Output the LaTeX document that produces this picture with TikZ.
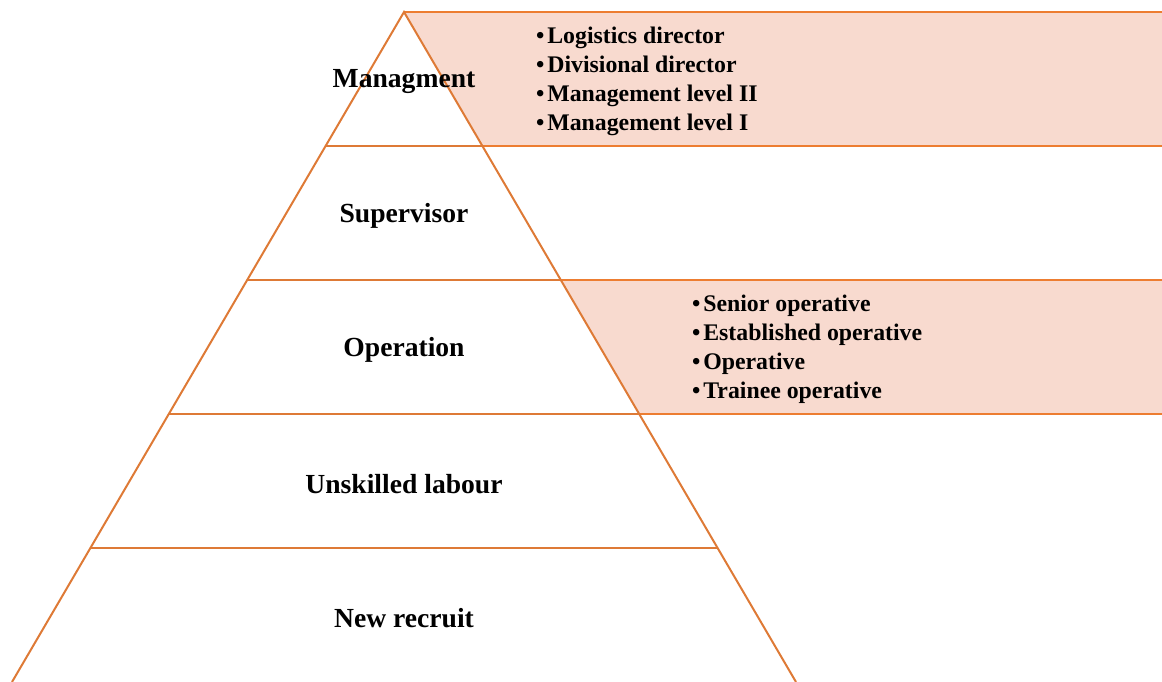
\documentclass[tikz,border=0pt]{standalone}
\usepackage{fontspec}
\setmainfont{Liberation Serif}
\usetikzlibrary{calc}
\definecolor{pyrorange}{RGB}{222,122,54}
\definecolor{boxorange}{RGB}{237,125,49}
\definecolor{boxfill}{RGB}{248,218,207}
\newcommand{\duty}{\textbullet\hspace{3pt}}
\tikzset{
  level/.style={font=\fontsize{27.6}{33}\selectfont\bfseries,inner sep=0pt},
  duties/.style={font=\fontsize{23.8}{29}\selectfont\bfseries,align=left,anchor=west,inner sep=0pt},
}

\begin{document}
\begin{tikzpicture}[x=1pt,y=-1pt,line width=2pt]
    \useasboundingbox (0,0) rectangle (1162,682);
    \coordinate (apex) at (404,12);
    \coordinate (bl) at (12,682);
    \coordinate (br) at (796,682);
    \coordinate (edge) at (1162,0);
    % band levels on both sides
    \foreach \i/\f in {1/0.2,2/0.4,3/0.6,4/0.8}{
        \coordinate (l\i) at ($(apex)!\f!(bl)$);
        \coordinate (r\i) at ($(apex)!\f!(br)$);
    }
    % shaded boxes
    \fill[boxfill](apex)--(apex -| edge)--(r1 -| edge)--(r1)--cycle;
    \fill[boxfill](r2)--(r2 -| edge)--(r3 -| edge)--(r3)--cycle;
    \draw[boxorange](apex)--(apex -| edge);
    \foreach \i in {1,2,3}
        \draw[boxorange](r\i)--(r\i -| edge);
    % pyramid
    \draw[pyrorange](bl)--(apex)--(br);
    \foreach \i in {1,2,3,4}
        \draw[pyrorange](l\i)--(r\i);
    % labels
    \node[level](mgmt) at (404,82){Managment};
    \node[level](super) at (404,216){Supervisor};
    \node[level](oper) at (404,350){Operation};
    \node[level](unskilled) at (404,484){Unskilled labour};
    \node[level](recruit) at (404,618){New recruit};
    \node[duties](mgmtlist) at (535,81){\duty Logistics director\\\duty Divisional director\\\duty Management level II\\\duty Management level I};
    \node[duties](operlist) at (691,349){\duty Senior operative\\\duty Established operative\\\duty Operative\\\duty Trainee operative};
\end{tikzpicture}
\end{document}
